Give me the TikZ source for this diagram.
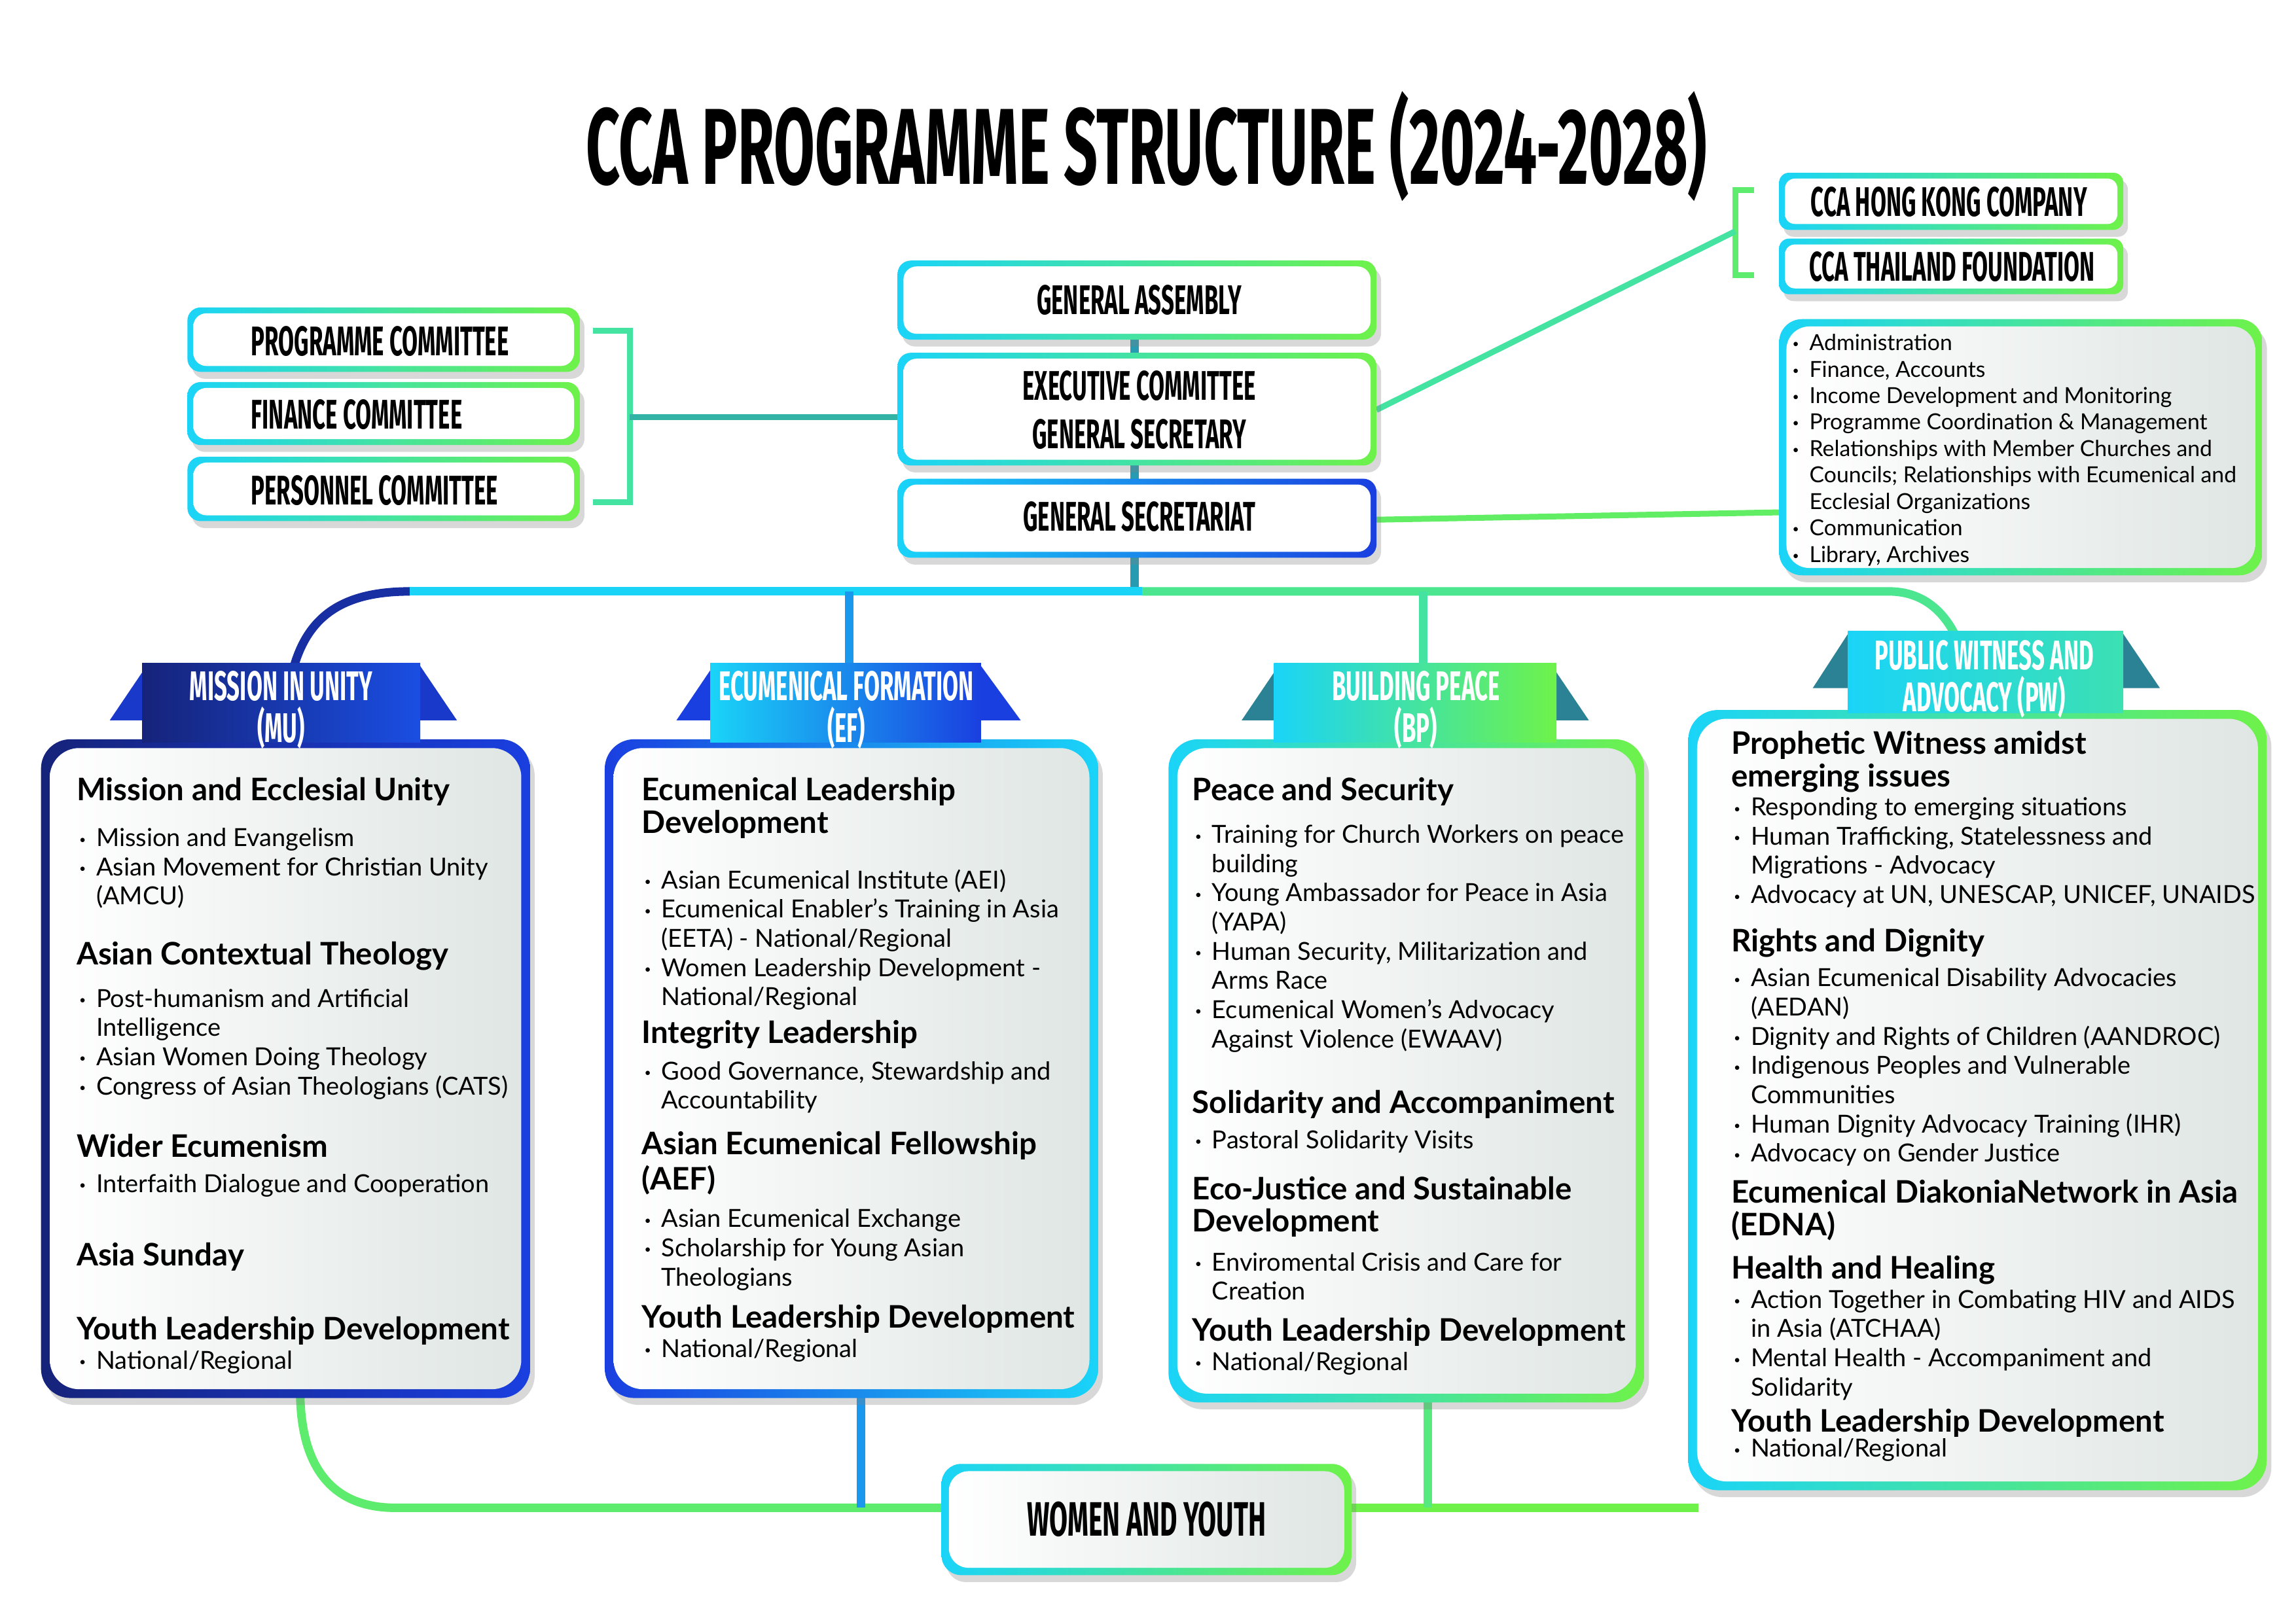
\documentclass[tikz,border=0pt]{standalone}
\usepackage{fontspec}
\setmainfont{Lato}
\newfontfamily\condf[FakeStretch=0.55]{Fira Sans}
\usetikzlibrary{shadows}
\definecolor{cy}{HTML}{1AD4F8}
\definecolor{gr}{HTML}{6EF24A}
\definecolor{bl}{HTML}{1A3FE0}
\definecolor{nv}{HTML}{16237A}
\definecolor{tl}{HTML}{2B8294}
\definecolor{bg}{HTML}{DFE6E3}
\tikzset{
  shad/.style={drop shadow={shadow xshift=2pt,shadow yshift=-3pt,opacity=.3,fill=gray}},
  lab/.style={font=\condf\bfseries\fontsize{18}{21}\selectfont,align=center},
  rib/.style={font=\condf\bfseries\fontsize{18}{18}\selectfont,align=center,text=white},
  body/.style={anchor=north west,inner sep=0pt,align=left,font=\fontsize{10.8}{12.7}\selectfont},
  conn/.style={line width=0.13cm},
}
\newcommand\hd[1]{{\fontsize{13.5}{12.7}\selectfont\bfseries #1}}
\newcommand\bu[1]{\makebox[0.3cm][l]{\hspace{0.04cm}\raisebox{.12em}{\tiny\textbullet}}#1}
\newcommand\ct[1]{\hspace*{0.3cm}#1}
% x1 y1 x2 y2 c1 c2 radius borderpx interiorcolor
\newcommand\gbox[9]{%
  \shade[left color=#5,right color=#6,rounded corners=#7,shad] (#1,#2) rectangle (#3,#4);
  \shade[left color=white,right color=#9,rounded corners=#7] (#1+#8,#2+#8) rectangle (#3-#8,#4-#8);}
\begin{document}
\begin{tikzpicture}[x=0.02237cm,y=-0.02237cm]
\useasboundingbox[fill=white] (0,0) rectangle (1568,1109);
\node[font=\condf\bfseries\fontsize{47}{47}\selectfont] (title) at (783,100) {CCA PROGRAMME STRUCTURE (2024-2028)};

% connectors top
\draw[conn,color=tl!70!cy] (775,232) -- (775,241) (775,318) -- (775,327) (775,381) -- (775,404);
\draw[conn,line width=0.09cm,color=cy!50!gr] (405,226) -- (430,226) -- (430,343) -- (405,343);
\draw[conn,line width=0.09cm,color=cy!40!tl!80!gr] (430,285) -- (613,285);
\draw[conn,line width=0.09cm,color=gr!80!cy] (1198,130) -- (1185,130) -- (1185,188) -- (1198,188);
\draw[conn,line width=0.09cm,color=cy!50!gr] (940,280) -- (1185,158);
\draw[conn,line width=0.09cm,color=gr!85!cy] (940,355) -- (1215,350);
% bus top
\draw[conn,color=nv!60!bl] (200,458) .. controls (210,420) and (235,404) .. (280,404);
\draw[conn,color=cy] (280,404) -- (780,404);
\draw[conn,color=cy!40!gr] (780,404) -- (1290,404) .. controls (1315,404) and (1330,420) .. (1338,440);
\draw[conn,color=bl!40!cy] (580,404) -- (580,460);
\draw[conn,color=cy!50!gr] (972,404) -- (972,460);
% bus bottom
\draw[conn,color=gr!80!cy] (205,950) .. controls (205,1000) and (225,1030) .. (270,1030) -- (650,1030);
\draw[conn,color=gr] (915,1030) -- (1160,1030);
\draw[conn,color=bl!40!cy] (588,950) -- (588,1030);
\draw[conn,color=gr!70!cy] (975,955) -- (975,1030);

% top boxes
\gbox{613}{178}{940}{232}{cy}{gr}{0.2cm}{4}{white}
\gbox{613}{241}{940}{318}{cy}{gr}{0.2cm}{4}{white}
\gbox{613}{327}{940}{381}{cy}{bl}{0.2cm}{4}{white}
\node[lab] (ga) at (778,205) {GENERAL ASSEMBLY};
\node[lab] (ec) at (778,280) {EXECUTIVE COMMITTEE\\GENERAL SECRETARY};
\node[lab] (gs) at (778,353) {GENERAL SECRETARIAT};
\gbox{128}{210}{396}{254}{cy}{gr}{0.2cm}{4}{white}
\gbox{128}{261}{396}{304}{cy}{gr}{0.2cm}{4}{white}
\gbox{128}{312}{396}{356}{cy}{gr}{0.2cm}{4}{white}
\node[lab,anchor=west] (pc) at (166,233) {PROGRAMME COMMITTEE};
\node[lab,anchor=west] (fc) at (166,283) {FINANCE COMMITTEE};
\node[lab,anchor=west] (pec) at (166,335) {PERSONNEL COMMITTEE};
\gbox{1215}{118}{1450}{157}{cy}{gr}{0.15cm}{4}{white}
\gbox{1215}{163}{1450}{201}{cy}{gr}{0.15cm}{4}{white}
\node[lab] (hk) at (1331,138) {CCA HONG KONG COMPANY};
\node[lab] (th) at (1333,182) {CCA THAILAND FOUNDATION};
\gbox{1215}{218}{1545}{393}{cy}{gr}{0.35cm}{5}{bg}
\node[body,font=\fontsize{9.6}{11.5}\selectfont] (adm) at (1222,228) {%
\bu{Administration}\\
\bu{Finance, Accounts}\\
\bu{Income Development and Monitoring}\\
\bu{Programme Coordination \& Management}\\
\bu{Relationships with Member Churches and}\\
\ct{Councils; Relationships with Ecumenical and}\\
\ct{Ecclesial Organizations}\\
\bu{Communication}\\
\bu{Library, Archives}};

% programme boxes
\gbox{28}{505}{362}{955}{nv}{bl}{0.45cm}{6}{bg}
\gbox{413}{505}{750}{955}{bl}{cy}{0.45cm}{6}{bg}
\gbox{798}{505}{1123}{958}{cy}{gr}{0.45cm}{6}{bg}
\gbox{1153}{485}{1548}{1018}{cy}{gr}{0.45cm}{6}{bg}
\gbox{643}{1000}{923}{1076}{cy}{gr}{0.3cm}{5}{bg}
\node[lab,font=\condf\bfseries\fontsize{21}{22}\selectfont] (wy) at (783,1038) {WOMEN AND YOUTH};

% ribbons
\fill[bl!80!nv] (75,492) -- (100,455) -- (287,455) -- (312,492) -- cycle;
\shade[left color=nv,right color=bl!90!cy] (97,453) rectangle (287,507);
\node[rib] (mu) at (192,485) {MISSION IN UNITY\\(MU)};
\fill[bl] (462,492) -- (487,455) -- (670,455) -- (697,492) -- cycle;
\shade[left color=cy,right color=bl] (485,453) rectangle (670,507);
\node[rib] (ef) at (578,485) {ECUMENICAL FORMATION\\(EF)};
\fill[tl] (848,492) -- (873,455) -- (1060,455) -- (1085,492) -- cycle;
\shade[left color=cy,right color=gr] (870,453) rectangle (1063,507);
\node[rib] (bp) at (967,485) {BUILDING PEACE\\(BP)};
\fill[tl] (1238,470) -- (1262,433) -- (1450,433) -- (1475,470) -- cycle;
\shade[left color=cy,right color=cy!60!gr] (1262,431) rectangle (1450,487);
\node[rib] (pw) at (1355,464) {PUBLIC WITNESS AND\\ADVOCACY (PW)};

% texts
\node[body] (mut) at (52,531) {%
\hd{Mission and Ecclesial Unity}\\[0.25cm]
\bu{Mission and Evangelism}\\
\bu{Asian Movement for Christian Unity}\\
\ct{(AMCU)}\\[0.47cm]
\hd{Asian Contextual Theology}\\[0.2cm]
\bu{Post-humanism and Artificial}\\
\ct{Intelligence}\\
\bu{Asian Women Doing Theology}\\
\bu{Congress of Asian Theologians (CATS)}\\[0.51cm]
\hd{Wider Ecumenism}\\[0.09cm]
\bu{Interfaith Dialogue and Cooperation}\\[0.67cm]
\hd{Asia Sunday}\\[0.69cm]
\hd{Youth Leadership Development}\\
\bu{National/Regional}};
\node[body] (eft) at (438,531) {%
\hd{Ecumenical Leadership}\\[0.05cm]
\hd{Development}\\[0.4cm]
\bu{Asian Ecumenical Institute (AEI)}\\
\bu{Ecumenical Enabler's Training in Asia}\\
\ct{(EETA) - National/Regional}\\
\bu{Women Leadership Development -}\\
\ct{National/Regional}\\[0.13cm]
\hd{Integrity Leadership}\\[0.11cm]
\bu{Good Governance, Stewardship and}\\
\ct{Accountability}\\[0.25cm]
\hd{Asian Ecumenical Fellowship}\\[0.05cm]
\hd{(AEF)}\\[0.13cm]
\bu{Asian Ecumenical Exchange}\\
\bu{Scholarship for Young Asian}\\
\ct{Theologians}\\[0.2cm]
\hd{Youth Leadership Development}\\
\bu{National/Regional}};
\node[body] (bpt) at (814,531) {%
\hd{Peace and Security}\\[0.2cm]
\bu{Training for Church Workers on peace}\\
\ct{building}\\
\bu{Young Ambassador for Peace in Asia}\\
\ct{(YAPA)}\\
\bu{Human Security, Militarization and}\\
\ct{Arms Race}\\
\bu{Ecumenical Women's Advocacy}\\
\ct{Against Violence (EWAAV)}\\[0.56cm]
\hd{Solidarity and Accompaniment}\\[0.09cm]
\bu{Pastoral Solidarity Visits}\\[0.33cm]
\hd{Eco-Justice and Sustainable}\\[0.05cm]
\hd{Development}\\[0.15cm]
\bu{Enviromental Crisis and Care for}\\
\ct{Creation}\\[0.18cm]
\hd{Youth Leadership Development}\\
\bu{National/Regional}};
\node[body] (pwt) at (1182,499) {%
\hd{Prophetic Witness amidst}\\[0.05cm]
\hd{emerging issues}\\
\bu{Responding to emerging situations}\\
\bu{Human Trafficking, Statelessness and}\\
\ct{Migrations - Advocacy}\\
\bu{Advocacy at UN, UNESCAP, UNICEF, UNAIDS}\\[0.29cm]
\hd{Rights and Dignity}\\[0.09cm]
\bu{Asian Ecumenical Disability Advocacies}\\
\ct{(AEDAN)}\\
\bu{Dignity and Rights of Children (AANDROC)}\\
\bu{Indigenous Peoples and Vulnerable}\\
\ct{Communities}\\
\bu{Human Dignity Advocacy Training (IHR)}\\
\bu{Advocacy on Gender Justice}\\[0.18cm]
\hd{Ecumenical DiakoniaNetwork in Asia}\\[0.05cm]
\hd{(EDNA)}\\[0.22cm]
\hd{Health and Healing}\\
\bu{Action Together in Combating HIV and AIDS}\\
\ct{in Asia (ATCHAA)}\\
\bu{Mental Health - Accompaniment and}\\
\ct{Solidarity}\\[0.11cm]
\hd{Youth Leadership Development}\\[-0.07cm]
\bu{National/Regional}};
\end{tikzpicture}
\end{document}
